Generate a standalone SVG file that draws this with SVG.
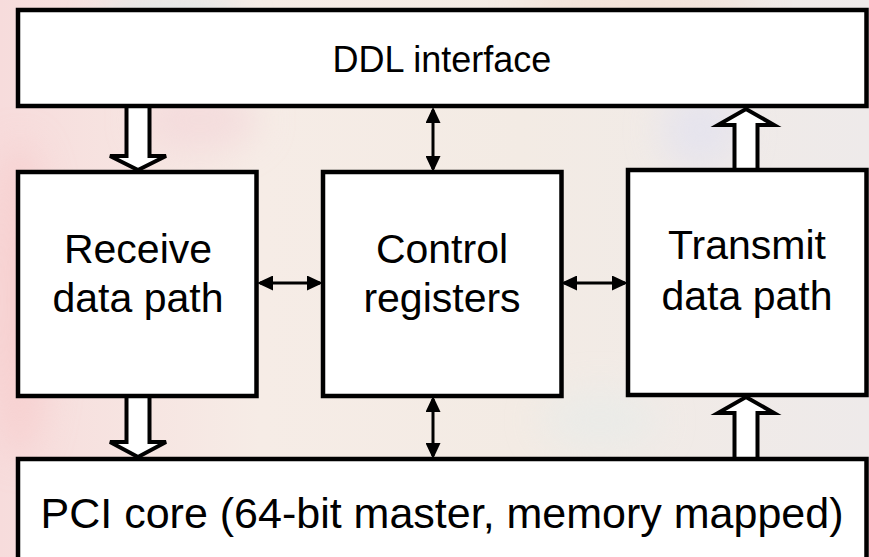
<svg xmlns="http://www.w3.org/2000/svg" width="869" height="557" viewBox="0 0 869 557">
  <defs>
    <linearGradient id="bg" x1="0" y1="0" x2="1" y2="0">
      <stop offset="0" stop-color="#f7dcdc"/>
      <stop offset="0.3" stop-color="#f6ece6"/>
      <stop offset="0.6" stop-color="#f3ebe4"/>
      <stop offset="1" stop-color="#eeeaea"/>
    </linearGradient>
    <filter id="blur" x="-50%" y="-50%" width="200%" height="200%">
      <feGaussianBlur stdDeviation="18"/>
    </filter>
    <marker id="ah" viewBox="0 0 16 15" refX="13" refY="7.5" markerWidth="16" markerHeight="15" markerUnits="userSpaceOnUse" orient="auto-start-reverse">
      <path d="M0,0 L16,7.5 L0,15 z" fill="#000"/>
    </marker>
    <style>
      .box { fill: #fff; stroke: #000; stroke-width: 4.5; }
      .hollow { fill: #fff; stroke: #000; stroke-width: 4; stroke-linejoin: miter; }
      .dbl { stroke: #000; stroke-width: 3; fill: none; marker-start: url(#ah); marker-end: url(#ah); }
      .lbl { font-family: "Liberation Sans", Arial, sans-serif; fill: #000; text-anchor: middle; }
    </style>
  </defs>

  <g id="background">
    <rect x="0" y="0" width="869" height="557" fill="url(#bg)"/>
    <g filter="url(#blur)" opacity="0.6">
      <ellipse cx="170" cy="20" rx="70" ry="25" fill="#cfe8ec"/>
      <ellipse cx="640" cy="10" rx="120" ry="20" fill="#f4d8c8"/>
      <ellipse cx="20" cy="300" rx="30" ry="160" fill="#f7c8c8"/>
      <ellipse cx="200" cy="120" rx="60" ry="30" fill="#f3d4d8"/>
      <ellipse cx="700" cy="130" rx="40" ry="40" fill="#dfe0f2"/>
      <ellipse cx="600" cy="420" rx="60" ry="30" fill="#e6ecea"/>
    </g>
  </g>

  <g id="connectors">
    <polygon class="hollow" points="126.5,106 149.5,106 149.5,156 166,156 138,170 110,156 126.5,156"/>
    <polygon class="hollow" points="126.5,396 149.5,396 149.5,442 166,442 138,457 110,442 126.5,442"/>
    <polygon class="hollow" points="734.5,170 757.5,170 757.5,125 774,125 746,109 718,125 734.5,125"/>
    <polygon class="hollow" points="734.5,459 757.5,459 757.5,413 774,413 746,397 718,413 734.5,413"/>
    <line class="dbl" x1="433" y1="110" x2="433" y2="169"/>
    <line class="dbl" x1="433" y1="399" x2="433" y2="456"/>
    <line class="dbl" x1="260" y1="283" x2="320" y2="283"/>
    <line class="dbl" x1="564" y1="283" x2="625" y2="283"/>
  </g>

  <g id="ddl">
    <rect class="box" x="18" y="10" width="848.5" height="96"/>
    <text class="lbl" x="442" y="72" font-size="36">DDL interface</text>
  </g>
  <g id="receive">
    <rect class="box" x="18" y="172" width="238.5" height="224"/>
    <text class="lbl" x="138" y="263" font-size="41">Receive</text>
    <text class="lbl" x="138" y="312" font-size="41">data path</text>
  </g>
  <g id="control">
    <rect class="box" x="323" y="172" width="238.5" height="224"/>
    <text class="lbl" x="442" y="263" font-size="41">Control</text>
    <text class="lbl" x="442" y="312" font-size="41">registers</text>
  </g>
  <g id="transmit">
    <rect class="box" x="628" y="170" width="238.5" height="225"/>
    <text class="lbl" x="747" y="259" font-size="41">Transmit</text>
    <text class="lbl" x="747" y="310" font-size="41">data path</text>
  </g>
  <g id="pci">
    <rect class="box" x="18" y="459" width="848.5" height="110"/>
    <text class="lbl" x="442" y="528" font-size="43">PCI core (64-bit master, memory mapped)</text>
  </g>
</svg>
